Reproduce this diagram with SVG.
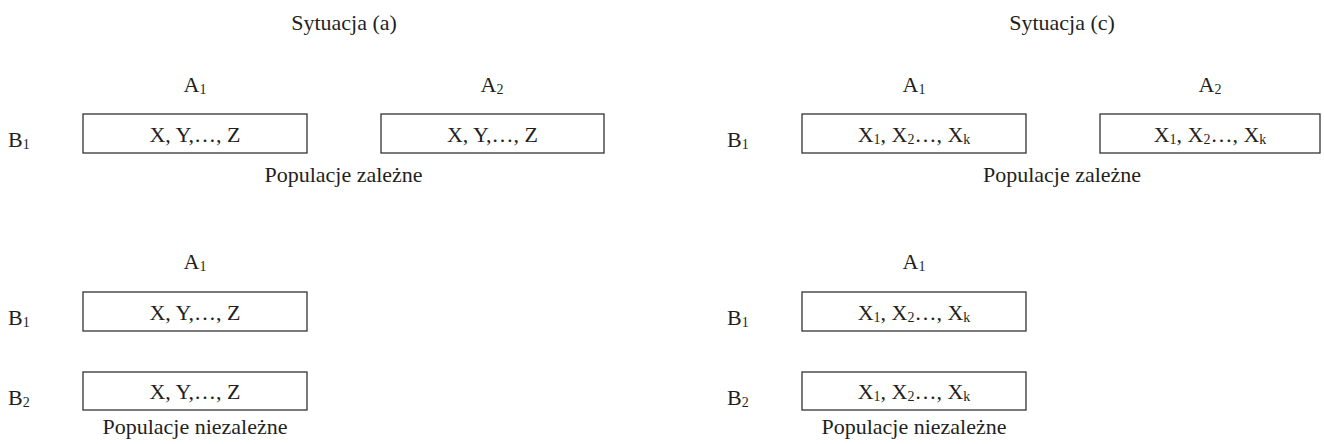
<svg xmlns="http://www.w3.org/2000/svg" width="1324" height="444" viewBox="0 0 1324 444">
<style>
text{font-family:"Liberation Serif","Times New Roman",serif;font-size:22px;fill:#231f20}
.c{text-anchor:middle}
.s{font-size:14px}
.box{fill:#fff;stroke:#333;stroke-width:1.3}
</style>
<rect width="1324" height="444" fill="#fff"/>
<g id="labels">
<text class="c" x="344" y="30">Sytuacja (a)</text>
<text class="c" x="1062" y="30">Sytuacja (c)</text>
<text class="c" x="195" y="92">A<tspan class="s" dy="2">1</tspan></text>
<text class="c" x="492" y="92">A<tspan class="s" dy="2">2</tspan></text>
<text class="c" x="914" y="92">A<tspan class="s" dy="2">1</tspan></text>
<text class="c" x="1210" y="92">A<tspan class="s" dy="2">2</tspan></text>
<text x="8" y="147">B<tspan class="s" dy="2">1</tspan></text>
<text x="727" y="147">B<tspan class="s" dy="2">1</tspan></text>
<text class="c" x="343.5" y="182">Populacje zależne</text>
<text class="c" x="1062" y="182">Populacje zależne</text>
<text class="c" x="195" y="269">A<tspan class="s" dy="2">1</tspan></text>
<text class="c" x="914" y="269">A<tspan class="s" dy="2">1</tspan></text>
<text x="8" y="325">B<tspan class="s" dy="2">1</tspan></text>
<text x="8" y="405">B<tspan class="s" dy="2">2</tspan></text>
<text x="727" y="325">B<tspan class="s" dy="2">1</tspan></text>
<text x="727" y="405">B<tspan class="s" dy="2">2</tspan></text>
<text class="c" x="195" y="434">Populacje niezależne</text>
<text class="c" x="914" y="434">Populacje niezależne</text>
</g>
<g id="node-a-a1b1">
<rect class="box" x="83" y="114" width="224" height="39"/>
<text class="c" x="195" y="141.5">X, Y,…, Z</text>
</g>
<g id="node-a-a2b1">
<rect class="box" x="381" y="114" width="223" height="39"/>
<text class="c" x="492.5" y="141.5">X, Y,…, Z</text>
</g>
<g id="node-c-a1b1">
<rect class="box" x="802" y="114" width="224" height="39"/>
<text class="c" x="914" y="141.5">X<tspan class="s" dy="2">1</tspan><tspan dy="-2">, X</tspan><tspan class="s" dy="2">2</tspan><tspan dy="-2">…, X</tspan><tspan class="s" dy="2">k</tspan></text>
</g>
<g id="node-c-a2b1">
<rect class="box" x="1100" y="114" width="220" height="39"/>
<text class="c" x="1210" y="141.5">X<tspan class="s" dy="2">1</tspan><tspan dy="-2">, X</tspan><tspan class="s" dy="2">2</tspan><tspan dy="-2">…, X</tspan><tspan class="s" dy="2">k</tspan></text>
</g>
<g id="node-a-b1">
<rect class="box" x="83" y="292" width="224" height="39"/>
<text class="c" x="195" y="319.5">X, Y,…, Z</text>
</g>
<g id="node-a-b2">
<rect class="box" x="83" y="372" width="224" height="38"/>
<text class="c" x="195" y="399">X, Y,…, Z</text>
</g>
<g id="node-c-b1">
<rect class="box" x="802" y="292" width="224" height="39"/>
<text class="c" x="914" y="319.5">X<tspan class="s" dy="2">1</tspan><tspan dy="-2">, X</tspan><tspan class="s" dy="2">2</tspan><tspan dy="-2">…, X</tspan><tspan class="s" dy="2">k</tspan></text>
</g>
<g id="node-c-b2">
<rect class="box" x="802" y="372" width="224" height="38"/>
<text class="c" x="914" y="399">X<tspan class="s" dy="2">1</tspan><tspan dy="-2">, X</tspan><tspan class="s" dy="2">2</tspan><tspan dy="-2">…, X</tspan><tspan class="s" dy="2">k</tspan></text>
</g>
<g id="connectors"></g>
</svg>
